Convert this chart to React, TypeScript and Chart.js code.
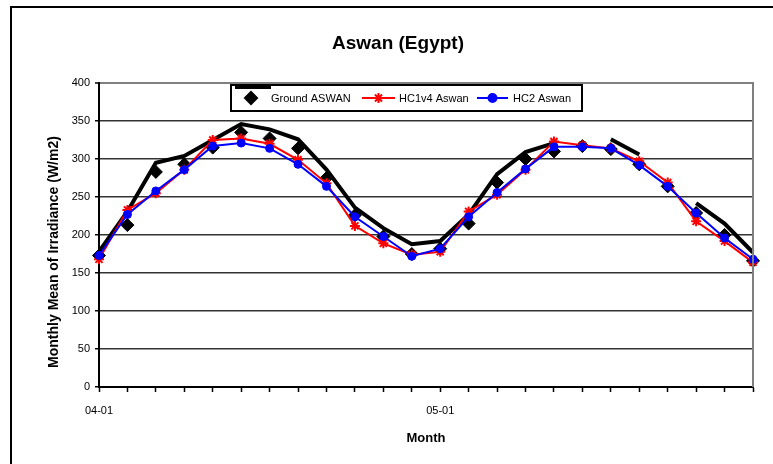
import React, { useEffect, useRef } from "react";
import { Chart, registerables } from "chart.js";
import { drawPoint } from "chart.js/helpers";

Chart.register(...registerables);

const months = [
  "04-01", "04-02", "04-03", "04-04", "04-05", "04-06", "04-07", "04-08", "04-09", "04-10", "04-11", "04-12",
  "05-01", "05-02", "05-03", "05-04", "05-05", "05-06", "05-07", "05-08", "05-09", "05-10", "05-11", "05-12",
];
const groundAswan = [173, 213, 283, 293, 315, 335, 327, 314, 275, 226, 198, 175, 182, 215, 269, 300, 310, 317, 313, 293, 264, 229, 200, 166];
const hc1v4Aswan = [168, 233, 255, 286, 325, 327, 320, 299, 268, 212, 189, 174, 178, 231, 253, 286, 323, 318, 314, 297, 269, 218, 192, 164];
const hc2Aswan = [173, 227, 258, 286, 317, 321, 314, 293, 264, 224, 198, 172, 182, 224, 256, 287, 316, 316, 314, 292, 264, 229, 196, 168];
const groundLine: (number | null)[] = [178, 231, 295, 304, 325, 346, 339, 326, 286, 236, 209, 188, 192, 227, 280, 309, 321, null, 326, 306, null, 242, 215, 177];

const titleText = "Aswan (Egypt)";
const yTitle = "Monthly Mean of Irradiance (W/m2)";
const xTitle = "Month";
const FONT = "'Liberation Sans', Arial, sans-serif";

const decorPlugin = {
  id: "decor",
  beforeDraw(chart: any) {
    const ctx = chart.ctx;
    ctx.save();
    ctx.fillStyle = "#fff";
    ctx.fillRect(0, 0, chart.width, chart.height);
    // outer chart border
    ctx.strokeStyle = "#000";
    ctx.lineWidth = 2;
    ctx.strokeRect(11, 7, 800, 500);
    ctx.restore();
  },
  afterDraw(chart: any) {
    const ctx = chart.ctx;
    const a = chart.chartArea;
    ctx.save();
    // plot area right border
    ctx.strokeStyle = "#808080";
    ctx.lineWidth = 2;
    ctx.beginPath();
    ctx.moveTo(a.right, a.top - 1);
    ctx.lineTo(a.right, a.bottom);
    ctx.stroke();

    // titles
    ctx.fillStyle = "#000";
    ctx.textAlign = "center";
    ctx.textBaseline = "middle";
    ctx.font = `bold 19px ${FONT}`;
    ctx.fillText(titleText, 398, 44);
    ctx.font = `bold 13px ${FONT}`;
    ctx.fillText(xTitle, (a.left + a.right) / 2, 438);
    ctx.save();
    ctx.translate(54, 252);
    ctx.rotate(-Math.PI / 2);
    ctx.font = `bold 14px ${FONT}`;
    ctx.fillText(yTitle, 0, 0);
    ctx.restore();

    // legend
    const ds = chart.data.datasets;
    const ly = 98;
    ctx.fillStyle = "#fff";
    ctx.fillRect(231, 85, 351, 26);
    ctx.strokeStyle = "#000";
    ctx.lineWidth = 2;
    ctx.strokeRect(231, 85, 351, 26);
    ctx.fillStyle = "#000";
    ctx.fillRect(235, 85, 36, 4);

    ctx.font = `11px ${FONT}`;
    ctx.textAlign = "left";
    ctx.textBaseline = "middle";

    const g = ds[2];
    drawPoint(ctx, { pointStyle: "rectRot", radius: 6, rotation: 0, borderWidth: 1 } as any, 251, ly);
    ctx.fillStyle = "#000";
    ctx.fillText(g.label, 271, ly + 1);

    const r = ds[1];
    ctx.strokeStyle = r.borderColor;
    ctx.lineWidth = 2;
    ctx.beginPath();
    ctx.moveTo(362, ly);
    ctx.lineTo(395, ly);
    ctx.stroke();
    ctx.strokeStyle = r.borderColor;
    ctx.fillStyle = r.borderColor;
    drawPoint(ctx, { pointStyle: "star", radius: 5, rotation: 0, borderWidth: 2 } as any, 378.5, ly);
    ctx.fillStyle = "#000";
    ctx.fillText(r.label, 399, ly + 1);

    const b = ds[0];
    ctx.strokeStyle = b.borderColor;
    ctx.lineWidth = 2;
    ctx.beginPath();
    ctx.moveTo(477, ly);
    ctx.lineTo(508, ly);
    ctx.stroke();
    ctx.fillStyle = b.borderColor;
    drawPoint(ctx, { pointStyle: "circle", radius: 4, rotation: 0, borderWidth: 1 } as any, 492.5, ly);
    ctx.fillStyle = "#000";
    ctx.fillText(b.label, 513, ly + 1);
    ctx.restore();
  },
};

export default function App() {
  const ref = useRef<HTMLCanvasElement | null>(null);
  useEffect(() => {
    if (!ref.current) return;
    Chart.defaults.font.family = FONT;
    const chart = new Chart(ref.current, {
      type: "line",
      data: {
        labels: months,
        datasets: [
          {
            label: "HC2 Aswan",
            data: hc2Aswan,
            borderColor: "#0000ff",
            backgroundColor: "#0000ff",
            borderWidth: 2,
            pointStyle: "circle",
            pointRadius: 4,
            pointBorderWidth: 1,
            tension: 0,
          },
          {
            label: "HC1v4 Aswan",
            data: hc1v4Aswan,
            borderColor: "#ff0000",
            backgroundColor: "#ff0000",
            borderWidth: 2,
            pointStyle: "star",
            pointRadius: 5,
            pointBorderWidth: 2,
            tension: 0,
          },
          {
            label: "Ground ASWAN",
            data: groundAswan,
            borderColor: "#000",
            backgroundColor: "#000",
            showLine: false,
            pointStyle: "rectRot",
            pointRadius: 6.5,
            pointBorderWidth: 1,
          },
          {
            label: "",
            data: groundLine,
            borderColor: "#000",
            backgroundColor: "#000",
            borderWidth: 4,
            pointRadius: 0,
            spanGaps: false,
            tension: 0,
          },
        ],
      },
      options: {
        responsive: false,
        animation: false,
        devicePixelRatio: 1,
        layout: { padding: { left: 0, right: 20, top: 83, bottom: 0 } },
        plugins: {
          legend: { display: false },
          title: { display: false },
          tooltip: { enabled: false },
        },
        scales: {
          x: {
            type: "category",
            offset: false,
            afterFit: (s: any) => {
              s.height = 77;
            },
            border: { display: true, color: "#000", width: 2 },
            grid: {
              drawOnChartArea: false,
              drawTicks: true,
              tickLength: 5,
              tickColor: "#000",
              tickWidth: 1.5,
            },
            ticks: {
              autoSkip: false,
              maxRotation: 0,
              minRotation: 0,
              padding: 12,
              color: "#000",
              font: { size: 11 },
              callback: (_v: any, i: number) => (months[i].endsWith("-01") ? months[i] : ""),
            },
          },
          y: {
            min: 0,
            max: 400,
            afterFit: (s: any) => {
              s.width = 99;
            },
            border: { display: true, color: "#000", width: 2 },
            grid: {
              color: (c: any) =>
                c.tick && c.tick.value === 400 ? "#808080" : c.tick && c.tick.value === 0 ? "rgba(0,0,0,0)" : "#333333",
              lineWidth: (c: any) => (c.tick && c.tick.value === 400 ? 2 : 1.5),
              drawTicks: true,
              tickLength: 4,
              tickColor: "#000",
              tickWidth: 1.5,
            },
            ticks: {
              stepSize: 50,
              padding: 5,
              color: "#000",
              font: { size: 11 },
            },
          },
        },
      },
      plugins: [decorPlugin],
    });
    return () => chart.destroy();
  }, []);
  return (
    <div style={{ position: "absolute", left: 0, top: 0, width: 773, height: 464 }}>
      <canvas ref={ref} width={773} height={464} style={{ display: "block" }} />
    </div>
  );
}
